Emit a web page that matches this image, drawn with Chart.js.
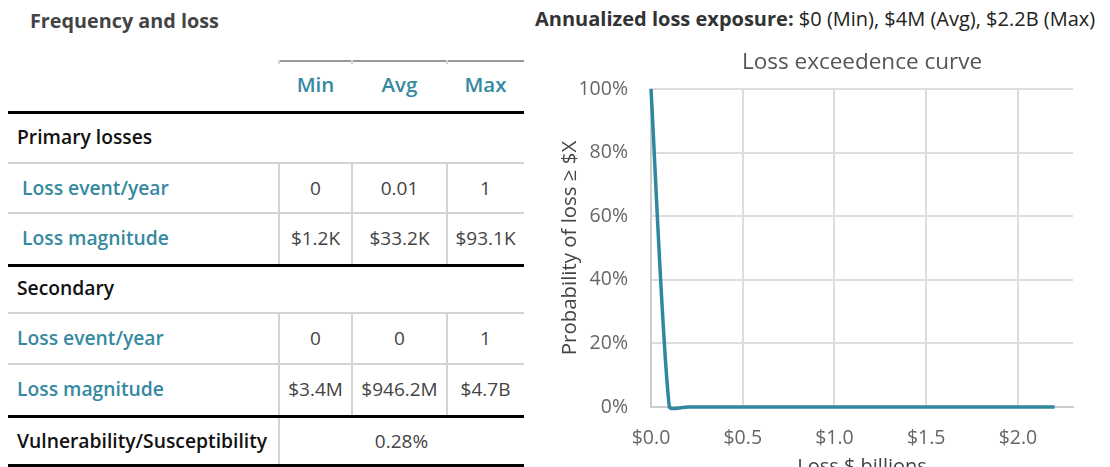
<!DOCTYPE html>
<html>
<head>
<meta charset="utf-8">
<title>Frequency and loss</title>
<script src="https://cdn.jsdelivr.net/npm/chart.js@4.4.1/dist/chart.umd.min.js"></script>
<style>
  body { margin: 0; width: 1110px; height: 467px; overflow: hidden; background: #fff; font-family: "Open Sans", sans-serif; position: relative; }
  .t { position: absolute; white-space: nowrap; line-height: 26px; height: 26px; }
  .hline { position: absolute; }
  .vline { position: absolute; width: 2px; background: #d4d4d4; }
  .head { font-weight: 700; font-size: 19.8px; color: #444; }
  .teal { color: #3589a0; font-weight: 600; font-size: 19.3px; }
  .colhead { font-size: 20.5px; text-align: center; }
  .sect { color: #111; font-weight: 600; font-size: 19.3px; }
  .val { color: #444; font-size: 19px; text-align: center; }
  #chartBox { position: absolute; left: 540px; top: 40px; }
</style>
</head>
<body>

<div class="t head" style="left:30px; top:8px;">Frequency and loss</div>
<div class="t" style="left:535px; top:6px; font-size:20px; color:#222;"><b style="color:#333;">Annualized loss exposure:</b> $0 (Min), $4M (Avg), $2.2B (Max)</div>

<div id="table"></div>

<div id="chartBox"><canvas id="lossChart" width="570" height="439"></canvas></div>

<script>
// table text
const colNames = ["Min", "Avg", "Max"];
const primaryEvents = ["0", "0.01", "1"];
const primaryMagnitude = ["$1.2K", "$33.2K", "$93.1K"];
const secondaryEvents = ["0", "0", "1"];
const secondaryMagnitude = ["$3.4M", "$946.2M", "$4.7B"];
const vulnerability = "0.28%";

// chart data (loss in $ billions, probability in %)
const lossX = [0, 0.1, 0.2, 0.5, 1.0, 1.5, 2.0, 2.2];
const exceedProb = [100, 0, 0, 0, 0, 0, 0, 0];
const xTicks = [0, 0.5, 1.0, 1.5, 2.0];
const yTicks = [0, 20, 40, 60, 80, 100];

const table = document.getElementById("table");
const colX = [279, 352, 447, 524];

function addText(txt, cls, left, cy, width) {
    let d = document.createElement("div");
    d.className = "t " + cls;
    d.textContent = txt;
    d.style.left = left + "px";
    d.style.top = (cy - 13) + "px";
    if (width) d.style.width = width + "px";
    table.appendChild(d);
}
function hLine(y, x1, x2, h, color) {
    let d = document.createElement("div");
    d.className = "hline";
    d.style.left = x1 + "px";
    d.style.top = y + "px";
    d.style.width = (x2 - x1) + "px";
    d.style.height = h + "px";
    d.style.background = color;
    table.appendChild(d);
}
function vLine(x, y1, y2) {
    let d = document.createElement("div");
    d.className = "vline";
    d.style.left = x + "px";
    d.style.top = y1 + "px";
    d.style.height = (y2 - y1) + "px";
    table.appendChild(d);
}

// header
hLine(60, 279, 524, 1.5, "#999");
[279, 352, 447].forEach(x => vLine(x - 1, 60, 64));
colNames.forEach((c, i) => addText(c, "teal colhead", colX[i], 84, colX[i + 1] - colX[i]));
hLine(111, 8, 524, 3, "#000");

// primary
addText("Primary losses", "sect", 17, 137);
hLine(162, 8, 524, 2, "#d4d4d4");
addText("Loss event/year", "teal", 22, 188);
hLine(212, 8, 524, 2, "#d4d4d4");
addText("Loss magnitude", "teal", 22, 238);
primaryEvents.forEach((v, i) => addText(v, "val", colX[i], 188, colX[i + 1] - colX[i]));
primaryMagnitude.forEach((v, i) => addText(v, "val", colX[i], 238, colX[i + 1] - colX[i]));
[279, 352, 447].forEach(x => vLine(x - 1, 164, 264));
hLine(264, 8, 524, 3, "#000");

// secondary
addText("Secondary", "sect", 17, 288);
hLine(312, 8, 524, 2, "#d4d4d4");
addText("Loss event/year", "teal", 17, 338);
hLine(363, 8, 524, 2, "#d4d4d4");
addText("Loss magnitude", "teal", 17, 389);
secondaryEvents.forEach((v, i) => addText(v, "val", colX[i], 338, colX[i + 1] - colX[i]));
secondaryMagnitude.forEach((v, i) => addText(v, "val", colX[i], 389, colX[i + 1] - colX[i]));
[279, 352, 447].forEach(x => vLine(x - 1, 314, 415));
hLine(415, 8, 524, 3, "#000");

// vulnerability
addText("Vulnerability/Susceptibility", "sect", 17, 441);
addText(vulnerability, "val", 279, 441, 245);
vLine(278, 418, 464);
hLine(464, 8, 524, 3, "#000");

// chart
const fam = "'Open Sans', sans-serif";
const ctx = document.getElementById("lossChart").getContext("2d");
const lossChart = new Chart(ctx, {
    type: "line",
    data: {
        datasets: [{
            data: lossX.map((x, i) => ({ x: x, y: exceedProb[i] })),
            borderColor: "#2f889e",
            borderWidth: 3.5,
            pointRadius: 0,
            tension: 0.2,
            capBezierPoints: false,
            clip: 4,
            fill: false
        }]
    },
    options: {
        responsive: false,
        animation: false,
        devicePixelRatio: 1,
        layout: { padding: { left: 0, right: 37, top: 0, bottom: 0 } },
        plugins: {
            legend: { display: false },
            tooltip: { enabled: false },
            title: {
                display: true,
                fullSize: false,
                text: "Loss exceedence curve",
                color: "#555",
                font: { family: fam, size: 22.5, weight: "normal" },
                padding: { top: 9, bottom: 13 }
            }
        },
        scales: {
            x: {
                type: "linear",
                min: 0,
                max: 2.3,
                afterBuildTicks: s => { s.ticks = xTicks.map(v => ({ value: v })); },
                afterFit: s => { s.height = 72; },
                ticks: {
                    callback: v => "$" + v.toFixed(1),
                    color: "#666",
                    font: { family: fam, size: 19.5 },
                    padding: 20,
                    maxRotation: 0
                },
                grid: { color: "#dddddd", lineWidth: 2, drawTicks: false },
                border: { color: "#cccccc", width: 2 },
                title: {
                    display: true,
                    text: "Loss $ billions",
                    color: "#444",
                    font: { family: fam, size: 20 },
                    padding: { top: 0, bottom: 0 }
                }
            },
            y: {
                min: 0,
                max: 100,
                afterBuildTicks: s => { s.ticks = yTicks.map(v => ({ value: v })); },
                afterFit: s => { s.width = 111; },
                ticks: {
                    callback: v => v + "%",
                    color: "#666",
                    font: { family: fam, size: 19.5 },
                    padding: 23
                },
                grid: { color: "#dddddd", lineWidth: 2, drawTicks: false },
                border: { color: "#cccccc", width: 2 },
                title: {
                    display: true,
                    text: "Probability of loss \u2265 $X",
                    color: "#444",
                    font: { family: fam, size: 20.4 },
                    padding: { top: 18, bottom: 0 }
                }
            }
        }
    }
});
</script>
</body>
</html>
